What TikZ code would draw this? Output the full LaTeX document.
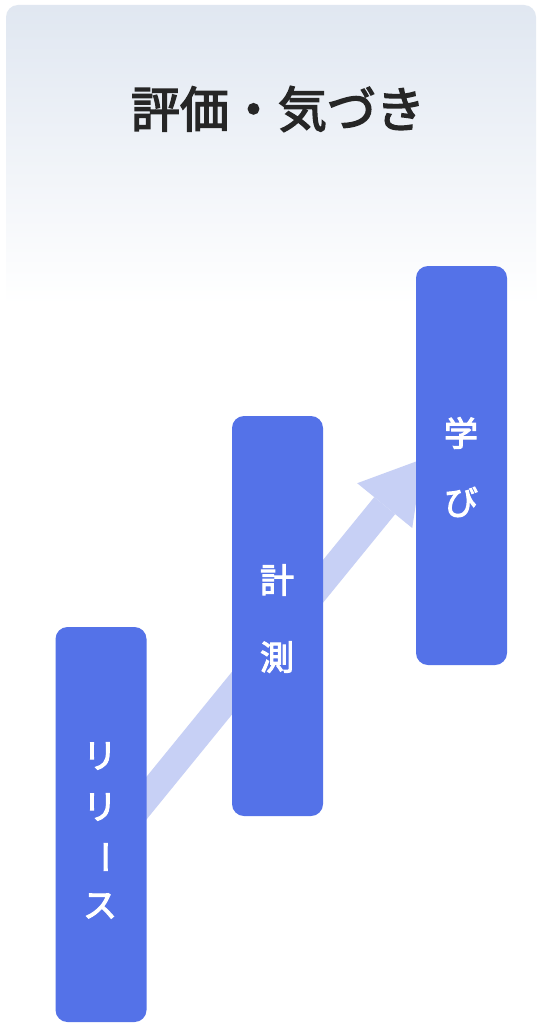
\documentclass[tikz,border=0pt]{standalone}
\usepackage{fontspec}
\usetikzlibrary{arrows.meta}
\newfontfamily\cjk{Noto Sans CJK JP}[FakeBold=3]
\definecolor{hdtop}{RGB}{224,231,241}
\definecolor{boxblue}{RGB}{84,114,232}
\definecolor{arrowc}{RGB}{199,208,245}
\definecolor{titlec}{RGB}{38,38,38}
\tikzset{
  stagebox/.style={fill=boxblue, draw=none, rounded corners=12pt, minimum width=91pt, inner sep=0pt},
  chr/.style={text=white, inner sep=0pt, font=\cjk\fontsize{34}{34}\selectfont},
  titletext/.style={text=titlec, inner sep=0pt, font=\cjk\fontsize{49}{49}\selectfont},
  flow/.style={draw=arrowc, line width=27pt, -{Triangle[width=71pt,length=60pt,line width=0pt]}}
}
\begin{document}
\begin{tikzpicture}[x=1pt,y=-1pt]
\useasboundingbox (0,0) rectangle (539,1027);
\fill[white] (0,0) rectangle (539,1027);
\shade[top color=hdtop, bottom color=white] (6,305) [rounded corners=12pt] -- (6,5) -- (536,5) [sharp corners] -- (536,305) -- cycle;
\node[titletext] (title) at (278,109) {評価・気づき};
% arrow behind boxes
\coordinate (s) at (114,838);
\coordinate (t) at (422.6,459.1);
\draw[flow] (s) -- (t);
% boxes
\node[stagebox, minimum height=395pt] (release) at (101,824.5) {};
\node[stagebox, minimum height=400pt] (measure) at (277.5,616) {};
\node[stagebox, minimum height=399pt] (learn) at (461.5,465.5) {};
% texts
\node[chr] (r1) at (100,756) {リ};
\node[chr] (r2) at (100,807) {リ};
\node[chr, rotate=-90] (r3) at (100,857) {ー};
\node[chr] (r4) at (100,906) {ス};
\node[chr] (m1) at (277,580) {計};
\node[chr] (m2) at (277,657) {測};
\node[chr] (l1) at (461,433) {学};
\node[chr] (l2) at (461,502) {び};
\end{tikzpicture}
\end{document}
